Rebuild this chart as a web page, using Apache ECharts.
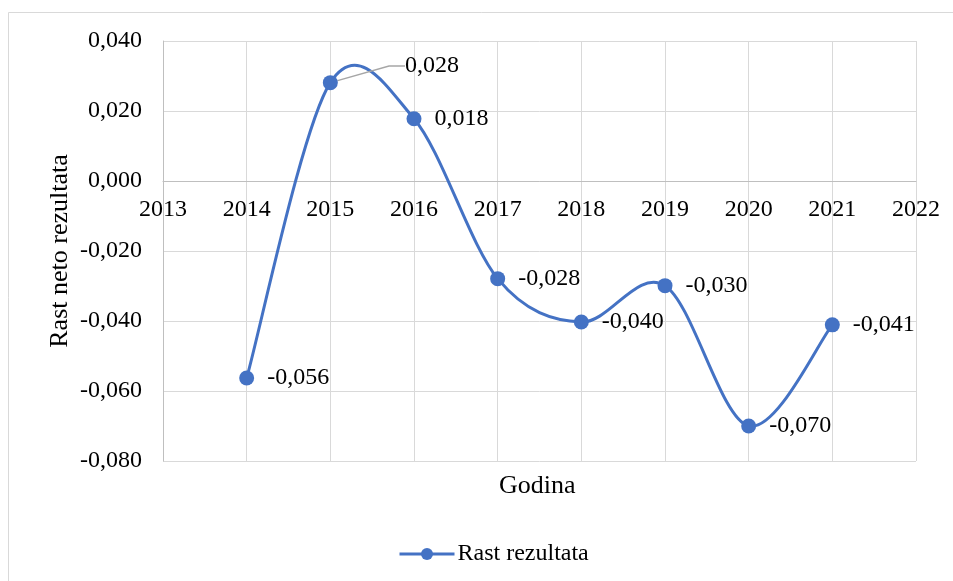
<!DOCTYPE html>
<html>
<head>
<meta charset="utf-8">
<script src="https://cdn.jsdelivr.net/npm/echarts@6/dist/echarts.min.js"></script>
<style>
  html, body { margin: 0; padding: 0; background: #fff; }
  #chart { width: 953px; height: 581px; }
</style>
</head>
<body>
<div id="chart"></div>
<script>
var years = [2014, 2015, 2016, 2017, 2018, 2019, 2020, 2021]; // godine
var values = [-0.0563, 0.0281, 0.0178, -0.0279, -0.0403, -0.0299, -0.0700, -0.0411]; // rast neto rezultata
var seriesName = 'Rast rezultata';
var xAxisName = 'Godina';
var yAxisName = 'Rast neto rezultata';
var fontFamily = 'Liberation Serif';
var blue = '#4472C4';

function fmt(v) {
  return v.toFixed(3).replace('.', ',');
}

// Excel-like smooth curve: one bezier segment per point pair (Catmull-Rom, tension 1/6)
function renderSegment(params, api) {
  var i = params.dataIndex;
  var n = years.length;
  if (i >= n - 1) return null;
  function pt(k) {
    k = Math.max(0, Math.min(n - 1, k));
    return api.coord([years[k], values[k]]);
  }
  var p0 = pt(i - 1), p1 = pt(i), p2 = pt(i + 1), p3 = pt(i + 2);
  return {
    type: 'bezierCurve',
    shape: {
      x1: p1[0], y1: p1[1],
      cpx1: p1[0] + (p2[0] - p0[0]) / 6, cpy1: p1[1] + (p2[1] - p0[1]) / 6,
      cpx2: p2[0] - (p3[0] - p1[0]) / 6, cpy2: p2[1] - (p3[1] - p1[1]) / 6,
      x2: p2[0], y2: p2[1]
    },
    style: { stroke: blue, lineWidth: 3, fill: null, lineCap: 'round' }
  };
}

var Chart = echarts.init(document.getElementById('chart'));

var points = years.map(function (y, i) { return [y, values[i]]; });

var option = {
  backgroundColor: '#fff',
  animation: false,
  textStyle: { fontFamily: fontFamily },
  grid: {
    left: 163,
    right: 37,
    top: 41,
    bottom: 120,
    containLabel: false
  },
  graphic: [{
    type: 'rect',
    shape: { x: 8.5, y: 12.5, width: 1000, height: 700 },
    style: { fill: 'none', stroke: '#d9d9d9', lineWidth: 1 },
    silent: true
  }, {
    type: 'text',
    left: 499,
    top: 473,
    style: {
      text: xAxisName,
      font: '26px "Liberation Serif"',
      fill: '#000'
    }
  }],
  legend: {
    left: 398,
    top: 542,
    padding: 0,
    itemWidth: 55,
    itemHeight: 15,
    itemGap: 4,
    textStyle: { fontFamily: fontFamily, fontSize: 24, color: '#000', padding: [0, 0, 0, -2] },
    lineStyle: { color: blue, width: 3, opacity: 1 },
    data: [seriesName]
  },
  xAxis: {
    type: 'value',
    min: 2013,
    max: 2022,
    interval: 1,
    offset: -280,
    axisLine: { show: true, onZero: false, lineStyle: { color: '#bfbfbf', width: 1 } },
    axisTick: { show: false },
    axisLabel: {
      color: '#000',
      fontSize: 24,
      fontFamily: fontFamily,
      margin: 17,
      formatter: function (v) { return String(v); }
    },
    splitLine: { show: true, lineStyle: { color: '#d9d9d9', width: 1 } }
  },
  yAxis: {
    type: 'value',
    min: -0.08,
    max: 0.04,
    interval: 0.02,
    name: yAxisName,
    nameLocation: 'middle',
    nameGap: 90,
    nameMoveOverlap: false,
    nameTextStyle: { color: '#000', fontSize: 26, fontFamily: fontFamily },
    axisLine: { show: true, lineStyle: { color: '#bfbfbf', width: 1 } },
    axisTick: { show: false },
    axisLabel: {
      color: '#000',
      fontSize: 24,
      fontFamily: fontFamily,
      margin: 21,
      formatter: fmt
    },
    splitLine: { show: true, lineStyle: { color: '#d9d9d9', width: 1 } }
  },
  series: [{
    name: seriesName,
    type: 'line',
    data: points.map(function (p, i) {
      return i === 1 ? { value: p, labelLine: { show: true } } : { value: p };
    }),
    symbol: 'circle',
    symbolSize: 15,
    z: 3,
    color: blue,
    lineStyle: { color: blue, width: 3, opacity: 0 },
    itemStyle: { color: blue },
    label: {
      show: true,
      position: 'right',
      distance: 13,
      offset: [0, 2],
      color: '#000',
      fontSize: 24,
      fontFamily: fontFamily,
      formatter: function (p) { return fmt(p.value[1]); }
    },
    labelLine: {
      show: false,
      length2: 16,
      lineStyle: { color: '#a6a6a6', width: 1.5 }
    },
    labelLayout: function (p) {
      if (p.dataIndex === 1) {
        return { x: 405, y: 66, align: 'left', verticalAlign: 'middle' };
      }
      return {};
    }
  }, {
    name: seriesName,
    type: 'custom',
    renderItem: renderSegment,
    data: points,
    encode: { x: 0, y: 1 },
    z: 2,
    silent: true
  }]
};

Chart.setOption(option);
</script>
</body>
</html>
